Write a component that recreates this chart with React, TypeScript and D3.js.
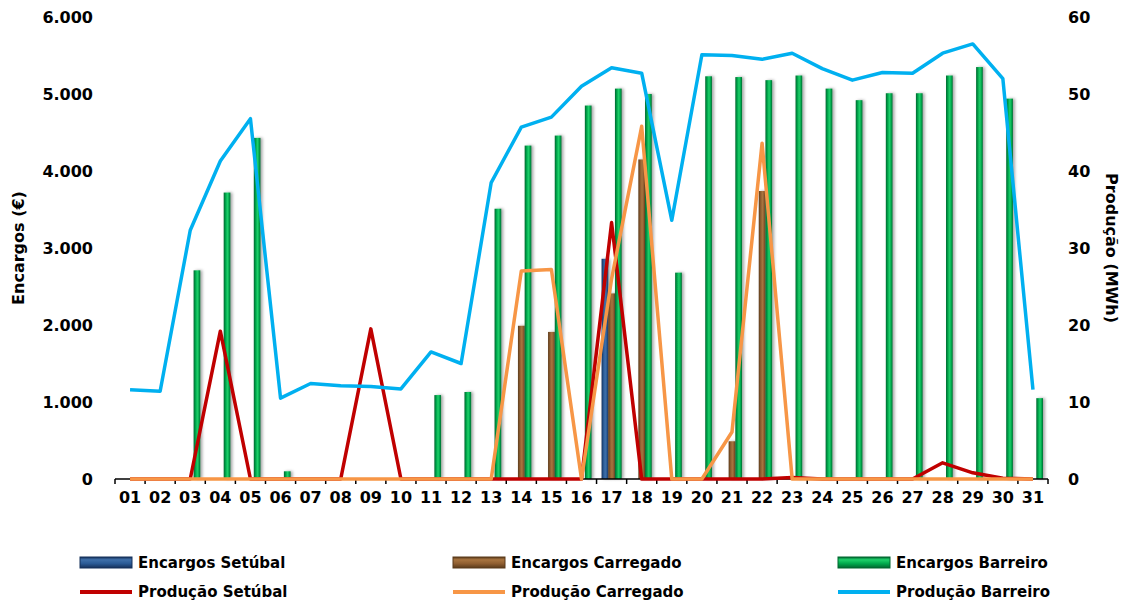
import React from 'react';
import * as d3 from 'd3';

const days = ['01','02','03','04','05','06','07','08','09','10','11','12','13','14','15','16','17','18','19','20','21','22','23','24','25','26','27','28','29','30','31'];

const encSetubal = [0,0,0,0,0,0,0,0,0,0,0,0,0,0,0,0,2860,0,0,0,0,0,0,0,0,0,0,0,0,0,0];
const encCarregado = [0,0,0,0,0,0,0,0,0,0,0,0,0,1990,1910,0,2410,4150,0,0,490,3740,0,0,0,0,0,0,0,0,0];
const encBarreiro = [0,0,2710,3720,4430,100,0,0,0,0,1090,1130,3510,4330,4460,4850,5070,5000,2680,5230,5220,5180,5240,5070,4920,5010,5010,5240,5350,4940,1050];

const prodSetubal = [0,0,0,19.2,0,0,0,0,19.5,0,0,0,0,0,0,0,33.3,0,0,0,0,0,0.2,0,0,0,0,2.1,0.8,0.1,0];
const prodCarregado = [0,0,0,0,0,0,0,0,0,0,0,0,0,27.0,27.2,0,26.0,45.8,0,0,6.1,43.6,0,0,0,0,0,0,0,0,0];
const prodBarreiro = [11.6,11.4,32.3,41.3,46.8,10.5,12.4,12.1,12.0,11.7,16.5,15.0,38.5,45.7,47.0,51.0,53.4,52.7,33.6,55.1,55.0,54.5,55.3,53.3,51.8,52.8,52.7,55.3,56.5,52.0,11.6];

const leftTicks = [0,1000,2000,3000,4000,5000,6000];
const rightTicks = [0,10,20,30,40,50,60];

const barSeries = [
  { name: 'Encargos Setúbal', values: encSetubal, grad: 'gSet', colors: ['#15305a', '#2a5a95', '#3f70aa', '#15305a'] },
  { name: 'Encargos Carregado', values: encCarregado, grad: 'gCar', colors: ['#5a3a1a', '#8f5e30', '#a8743f', '#5a3a1a'] },
  { name: 'Encargos Barreiro', values: encBarreiro, grad: 'gBar', colors: ['#00662f', '#00a84c', '#1fd06a', '#00662f'] },
];
const lineSeries = [
  { name: 'Produção Setúbal', values: prodSetubal, color: '#C00000' },
  { name: 'Produção Carregado', values: prodCarregado, color: '#F79646' },
  { name: 'Produção Barreiro', values: prodBarreiro, color: '#00B0F0' },
];

const FONT = '"DejaVu Sans", sans-serif';

export default function App() {
  const left = 115, right = 1048, top = 17, bottom = 479;
  const x = d3.scaleBand<string>().domain(days).range([left, right]).padding(0);
  const step = x.step();
  const yL = d3.scaleLinear().domain([0, 6000]).range([bottom, top]);
  const yR = d3.scaleLinear().domain([0, 60]).range([bottom, top]);
  const barW = 6.7;
  const cx = (d: string) => (x(d) as number) + x.bandwidth() / 2;

  const legendCols = [80, 453, 838];

  return (
    <svg width={1130} height={605} style={{ position: 'absolute', left: 0, top: 0, background: '#fff' }} fontFamily={FONT}>
      <defs>
        {barSeries.map(s => (
          <linearGradient key={s.grad} id={s.grad} x1="0" x2="1" y1="0" y2="0">
            <stop offset="0%" stopColor={s.colors[0]} />
            <stop offset="30%" stopColor={s.colors[1]} />
            <stop offset="55%" stopColor={s.colors[2]} />
            <stop offset="80%" stopColor={s.colors[1]} />
            <stop offset="100%" stopColor={s.colors[3]} />
          </linearGradient>
        ))}
        {barSeries.map(s => (
          <linearGradient key={s.grad + 'v'} id={s.grad + 'v'} x1="0" x2="0" y1="0" y2="1">
            <stop offset="0%" stopColor={s.colors[0]} />
            <stop offset="25%" stopColor={s.colors[2]} />
            <stop offset="60%" stopColor={s.colors[1]} />
            <stop offset="100%" stopColor={s.colors[0]} />
          </linearGradient>
        ))}
        <filter id="shadow" x="-50%" y="-5%" width="250%" height="110%">
          <feDropShadow dx="2" dy="0" stdDeviation="1.5" floodColor="#000" floodOpacity="0.35" />
        </filter>
      </defs>

      {/* Left axis labels */}
      {leftTicks.map(t => (
        <text key={'l' + t} x={93} y={yL(t)} dy="0.36em" textAnchor="end" fontSize={16} fontWeight="bold" fill="#000">
          {d3.format(',')(t).replace(/,/g, '.')}
        </text>
      ))}
      {/* Right axis labels */}
      {rightTicks.map(t => (
        <text key={'r' + t} x={1068} y={yR(t)} dy="0.36em" textAnchor="start" fontSize={16} fontWeight="bold" fill="#000">
          {t}
        </text>
      ))}
      <text transform={`translate(24,${(top + bottom) / 2}) rotate(-90)`} textAnchor="middle" fontSize={16} fontWeight="bold">Encargos (€)</text>
      <text transform={`translate(1106,${(top + bottom) / 2}) rotate(90)`} textAnchor="middle" fontSize={16} fontWeight="bold">Produção (MWh)</text>

      {/* Bars */}
      {barSeries.map((s, si) => (
        <g key={s.name} filter="url(#shadow)">
          {s.values.map((v, i) => v > 0 ? (
            <rect key={i} x={cx(days[i]) + (si - 1.5) * barW} y={yL(v)} width={barW} height={bottom - yL(v)} fill={`url(#${s.grad})`} />
          ) : null)}
        </g>
      ))}

      {/* X axis */}
      <line x1={left} x2={right} y1={bottom} y2={bottom} stroke="#000" strokeWidth={1.5} />
      {d3.range(days.length + 1).map(i => (
        <line key={'t' + i} x1={left + i * step} x2={left + i * step} y1={bottom} y2={bottom + 5} stroke="#000" strokeWidth={1.5} />
      ))}
      {days.map(d => (
        <text key={'x' + d} x={cx(d)} y={503} textAnchor="middle" fontSize={16} fontWeight="bold">{d}</text>
      ))}

      {/* Lines */}
      {lineSeries.map(s => {
        const gen = d3.line<number>().x((_, i) => cx(days[i])).y(v => yR(v));
        return <path key={s.name} d={gen(s.values) || ''} fill="none" stroke={s.color} strokeWidth={3.5} strokeLinejoin="round" />;
      })}

      {/* Legend */}
      {barSeries.map((s, i) => (
        <g key={'lb' + i}>
          <rect x={legendCols[i]} y={557} width={52} height={11} fill={`url(#${s.grad}v)`} stroke={s.colors[0]} strokeWidth={1} />
          <text x={legendCols[i] + 58} y={568} fontSize={15} fontWeight="bold">{s.name}</text>
        </g>
      ))}
      {lineSeries.map((s, i) => (
        <g key={'ll' + i}>
          <line x1={legendCols[i]} x2={legendCols[i] + 52} y1={592} y2={592} stroke={s.color} strokeWidth={4} />
          <text x={legendCols[i] + 58} y={597} fontSize={15} fontWeight="bold">{s.name}</text>
        </g>
      ))}
    </svg>
  );
}
